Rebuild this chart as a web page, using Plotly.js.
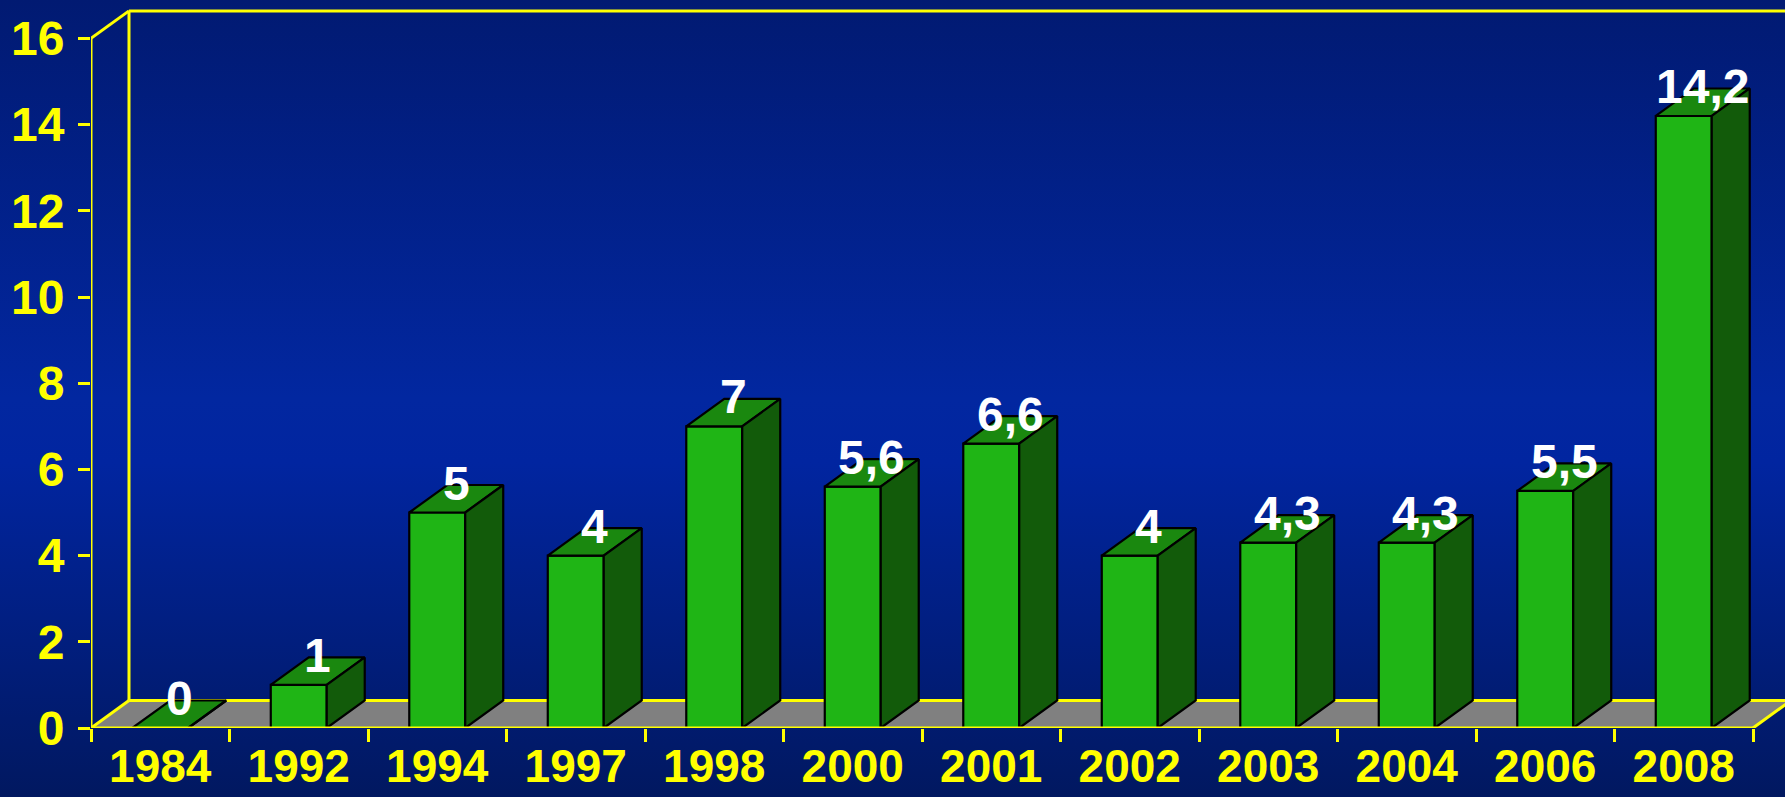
<!DOCTYPE html>
<html>
<head>
<meta charset="utf-8">
<script src="https://cdn.plot.ly/plotly-3.0.1.min.js"></script>
<style>
  html, body { margin: 0; padding: 0; width: 1785px; height: 797px; overflow: hidden;
    background: linear-gradient(to bottom, #011a72 0%, #0227a0 50%, #0125a0 58%, #011860 100%); }
  #chart { width: 1785px; height: 797px; }
</style>
</head>
<body>
<div id="chart"></div>
<script>
// ---- data ----
const years = ['1984','1992','1994','1997','1998','2000','2001','2002','2003','2004','2006','2008'];
const values = [0, 1, 5, 4, 7, 5.6, 6.6, 4, 4.3, 4.3, 5.5, 14.2];
const valueLabels = ['0','1','5','4','7','5,6','6,6','4','4,3','4,3','5,5','14,2'];
const yTickVals = [0, 2, 4, 6, 8, 10, 12, 14, 16];

// ---- geometry (in axis units) ----
const W = 1785, H = 797;
const ML = 91, MB = 69;
const pxPerCat = 138.5, pxPerUnit = 43.1;
const DX = 38 / pxPerCat;     // depth offset along x
const DY = 27.5 / pxPerUnit;  // depth offset along y
const HW = 0.202;             // half width of bar front face
const X0 = -0.5, X1 = years.length - 0.5;
const XMAX = X0 + (W - ML) / pxPerCat;
const YTOP = (H - MB) / pxPerUnit;
const YMAXTICK = yTickVals[yTickVals.length - 1];

const idx = years.map((_, i) => i);

// faces
const topX = [], topY = [], sideX = [], sideY = [];
idx.forEach((i) => {
  const v = values[i];
  topX.push(i - HW, i + HW, i + HW + DX, i - HW + DX, i - HW, null);
  topY.push(v, v, v + DY, v + DY, v, null);
  sideX.push(i + HW, i + HW + DX, i + HW + DX, i + HW, i + HW, null);
  sideY.push(0, DY, v + DY, v, 0, null);
});

const FRONT = '#1fb515', TOP = '#1a880f', SIDE = '#125b0a';
const YEL = '#ffff00';
const FONT = 'Liberation Sans, Arial, sans-serif';

const traces = [
  { type: 'bar', x: idx, y: values, width: 2 * HW,
    marker: { color: FRONT, line: { color: '#000', width: 2.2 } },
    hoverinfo: 'skip', showlegend: false },
  { type: 'scatter', mode: 'lines', x: topX, y: topY, fill: 'toself', fillcolor: TOP,
    line: { color: '#000', width: 2.2 }, hoverinfo: 'skip', showlegend: false },
  { type: 'scatter', mode: 'lines', x: sideX, y: sideY, fill: 'toself', fillcolor: SIDE,
    line: { color: '#000', width: 2.2 }, hoverinfo: 'skip', showlegend: false }
];

const lineShape = (x0, y0, x1, y1) => ({ type: 'line', xref: 'x', yref: 'y', x0, y0, x1, y1,
  line: { color: YEL, width: 3 }, layer: 'below' });

const shapes = [
  // floor
  { type: 'path', xref: 'x', yref: 'y', layer: 'below',
    path: `M${X0},0 L${X1},0 L${X1 + DX},${DY} L${X0 + DX},${DY} Z`,
    fillcolor: '#808080', line: { width: 0 } },
  lineShape(X0 + DX, DY, X1 + DX, DY),                         // floor back edge
  lineShape(X0, 0, X0 + DX, DY),                               // floor left diagonal
  lineShape(X1, 0, X1 + DX, DY),                               // floor right diagonal
  lineShape(X0 + DX, DY, X0 + DX, YMAXTICK + DY),              // back wall left
  lineShape(X0 + DX, YMAXTICK + DY, XMAX + 1, YMAXTICK + DY),  // back wall top
  lineShape(X0, YMAXTICK, X0 + DX, YMAXTICK + DY),             // top-left diagonal
  lineShape(X0, 0, X0, YMAXTICK),                              // y axis line
  Object.assign(lineShape(X0, 0, X1, 0), { layer: 'above' })   // front floor edge
];

const annotations = idx.map((i) => ({
  x: i - HW + (2 * HW + DX) / 2, y: values[i], xref: 'x', yref: 'y',
  text: valueLabels[i], showarrow: false, xanchor: 'center', yanchor: 'bottom', yshift: 1,
  font: { family: FONT, size: 48, color: '#ffffff', weight: 'bold' }
}));

const layout = {
  width: W, height: H,
  margin: { l: ML, r: 0, t: 0, b: MB, pad: 0 },
  paper_bgcolor: 'rgba(0,0,0,0)', plot_bgcolor: 'rgba(0,0,0,0)',
  showlegend: false,
  bargap: 0,
  xaxis: {
    range: [X0, XMAX], automargin: false, fixedrange: true,
    tickmode: 'array', tickvals: idx, ticktext: years,
    ticks: 'outside', ticklen: 3, tickcolor: 'rgba(0,0,0,0)', ticklabelstandoff: -5,
    tickfont: { family: FONT, size: 46, color: YEL, weight: 'bold' },
    showgrid: false, zeroline: false, showline: false,
    minor: { tick0: X0, dtick: 1, ticks: 'outside', ticklen: 13, tickwidth: 3, tickcolor: YEL, showgrid: false }
  },
  yaxis: {
    range: [0, YTOP], automargin: false, fixedrange: true,
    tickmode: 'array', tickvals: yTickVals, ticktext: yTickVals.map(String),
    ticks: 'outside', ticklen: 12, tickwidth: 3, tickcolor: YEL, ticklabelstandoff: 4,
    tickfont: { family: FONT, size: 48, color: YEL, weight: 'bold' },
    showgrid: false, zeroline: false, showline: false
  },
  shapes, annotations
};

Plotly.newPlot('chart', traces, layout, { displayModeBar: false, staticPlot: true });
</script>
</body>
</html>
